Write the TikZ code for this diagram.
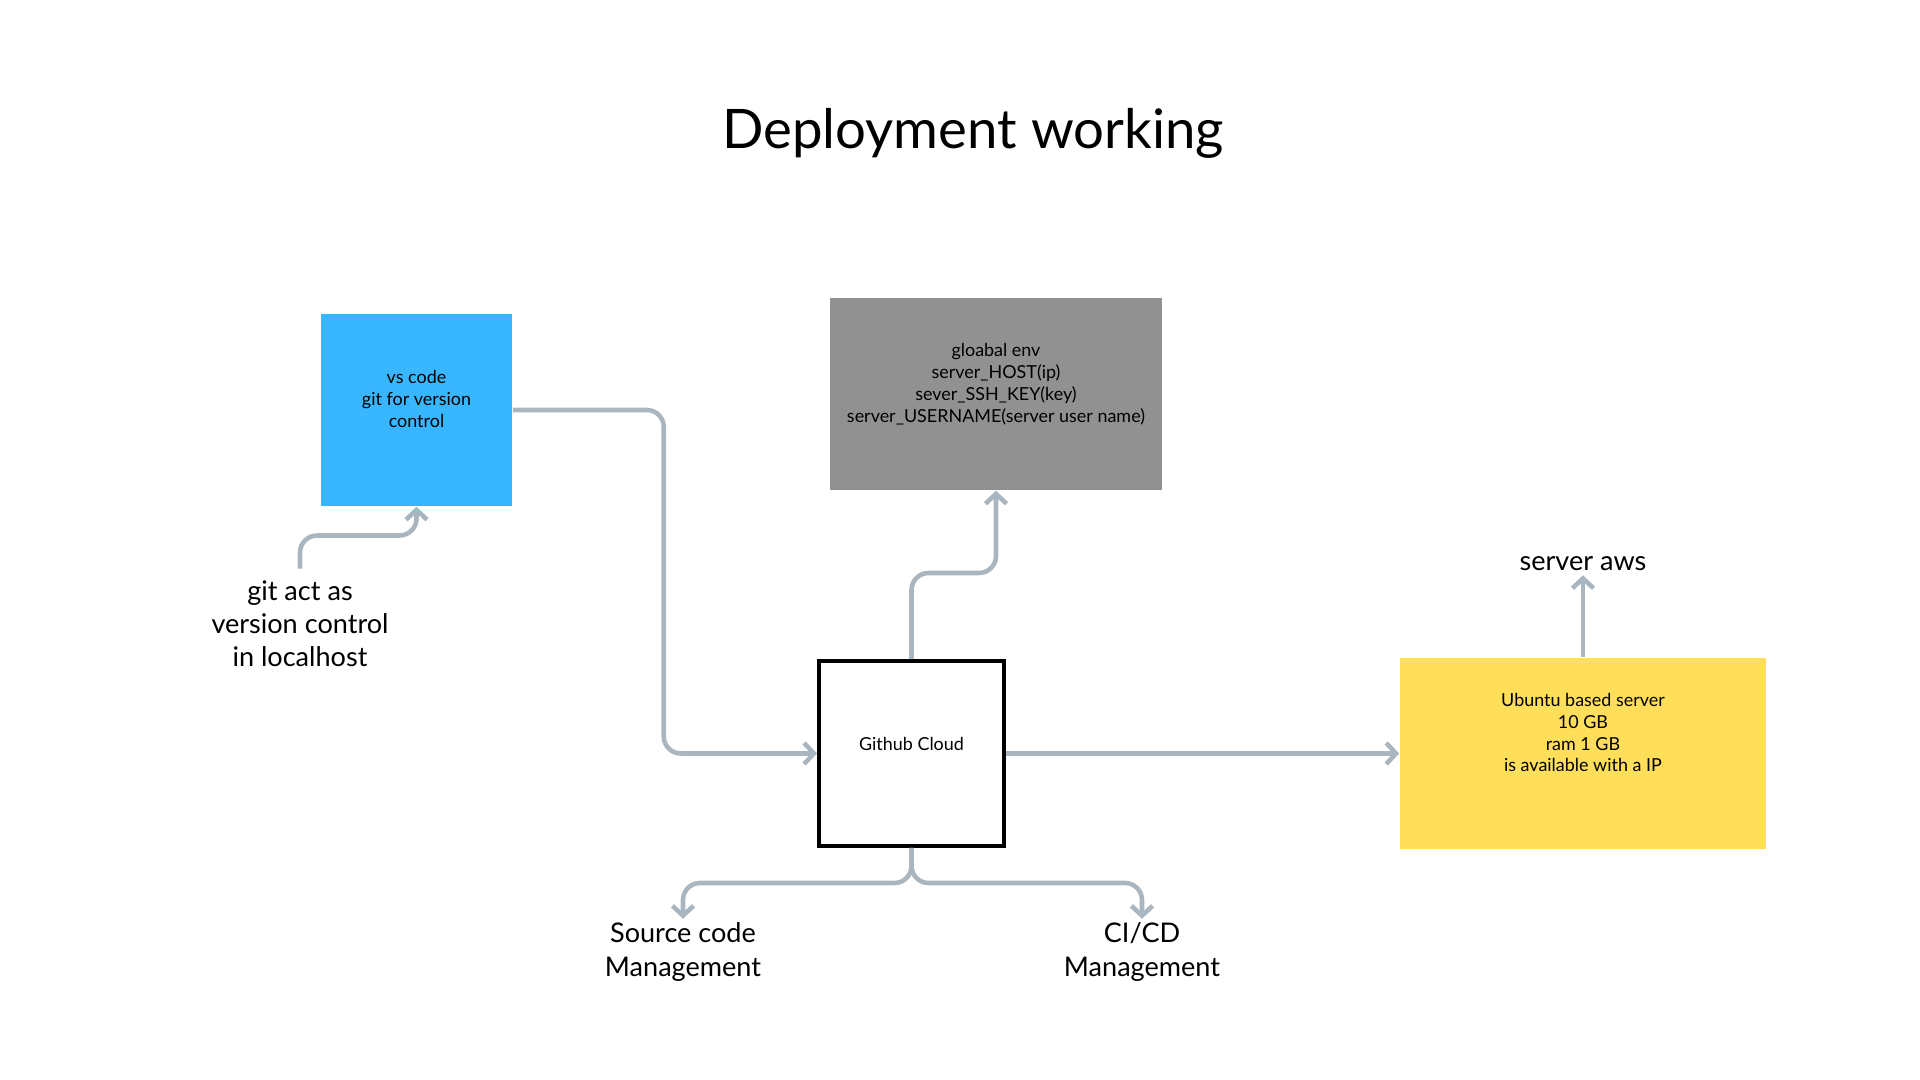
\documentclass[tikz,border=0pt]{standalone}
\usepackage{fontspec}
\setmainfont{Lato}
\usetikzlibrary{arrows.meta}
\definecolor{linegray}{RGB}{170,182,191}
\definecolor{vsblue}{RGB}{56,182,255}
\definecolor{envgray}{RGB}{145,145,145}
\definecolor{srvyellow}{RGB}{255,222,89}
\tikzset{flow/.style = {draw=linegray, line width=1.3pt, rounded corners=0.17cm,
                        -{Straight Barb[length=2.8pt,width=6pt]}}}
\tikzset{boxtxt/.style = {align=center, font=\fontsize{5.1}{6.25}\selectfont},
         bigtxt/.style = {align=center, font=\fontsize{7.7}{9.4}\selectfont}}

\begin{document}
\begin{tikzpicture}[x=0.01cm, y=-0.01cm]
\useasboundingbox (0,0) rectangle (1920,1080);
\node [font=\fontsize{15.5}{18}\selectfont] (title) at (973,133) {Deployment working};
\node [fill=vsblue, minimum width=1.91cm, minimum height=1.92cm,
       label={[boxtxt, yshift=1.1mm]center:{vs code\\git for version\\control}}] (vscode) at (416.5,410) {};
\node [fill=envgray, minimum width=3.32cm, minimum height=1.92cm,
       label={[boxtxt, yshift=1mm]center:{gloabal env\\server\_HOST(ip)\\sever\_SSH\_KEY(key)\\server\_USERNAME(server user name)}}] (envbox) at (996,394) {};
\node [draw=black, line width=1.1pt, minimum width=1.85cm, minimum height=1.85cm,
       label={[boxtxt, yshift=1mm]center:{Github Cloud}}] (github) at (911.5,753.5) {};
\node [fill=srvyellow, minimum width=3.66cm, minimum height=1.91cm,
       label={[boxtxt, yshift=2.1mm]center:{Ubuntu based server\\10 GB\\ram 1 GB\\is available with a IP}}] (ubuntu) at (1583,753.5) {};
\node [bigtxt] (gitlbl) at (300,624) {git act as\\version control\\in localhost};
\node [bigtxt, inner ysep=1pt] (awslbl) at (1583,564) {server aws};
\node [bigtxt, inner ysep=1pt] (scmlbl) at (683,952) {Source code\\Management};
\node [bigtxt, inner ysep=1pt] (cicdlbl) at (1142,952) {CI/CD\\Management};
\draw [flow] (gitlbl.north) -- ++(0,-33) -| (vscode.south);
\draw [flow] (vscode.east) -- ++(151,0) |- (github.west);
\draw [flow] (github.north) -- ++(0,-86) -| (envbox.south);
\draw [flow] (github.east) -- (ubuntu.west);
\draw [flow] (ubuntu.north) -- (awslbl.south);
\draw [flow] (github.south) -- ++(0,35) -| (scmlbl.north);
\draw [flow] (github.south) -- ++(0,35) -| (cicdlbl.north);
\end{tikzpicture}
\end{document}
